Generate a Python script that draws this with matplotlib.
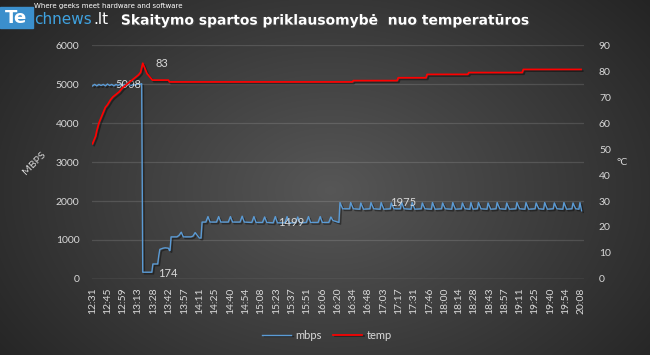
import numpy as np
import matplotlib.pyplot as plt
import matplotlib.patheffects as pe

# Tick labels on the time axis
time_labels = ["12:31", "12:45", "12:59", "13:13", "13:28", "13:42", "13:57", "14:11",
               "14:25", "14:40", "14:54", "15:08", "15:23", "15:37", "15:51", "16:06",
               "16:20", "16:34", "16:48", "17:03", "17:17", "17:31", "17:46", "18:00",
               "18:14", "18:28", "18:43", "18:57", "19:11", "19:25", "19:40", "19:54", "20:08"]

# mbps series (minutes since 12:31, value)
mbps_t = [0, 2, 4, 6, 8, 10, 12, 14, 16, 18, 20, 22, 24, 26, 28, 30, 32, 34, 36, 38, 40, 42, 44, 46,
          47, 55.5, 56.5, 61, 62, 63, 66, 68, 71, 72, 72.5, 73.5, 79, 81, 83, 85, 92, 94, 96, 98, 100,
          101.5, 102.5,
          106, 108, 110, 116, 118, 120, 127, 129, 131, 138, 140, 142, 149, 151, 153, 159, 161, 163,
          169, 171, 173, 180, 182, 184, 190, 192, 194, 200, 202, 204, 211, 213, 215, 221, 223, 225,
          230.5, 231.5, 234, 240.5, 241.5, 244, 250, 251, 253.5, 259.5, 260.5, 263, 269, 270, 272.5,
          278.5, 279.5, 282, 288, 289, 291.5, 298, 299, 301.5, 307.5, 308.5, 311, 317, 318, 320.5,
          326.5, 327.5, 330, 336, 337, 339.5, 345, 346, 348.5, 353, 354, 356, 360, 361, 363.5,
          369, 370, 372.5, 377.5, 378.5, 381, 386.5, 387.5, 390, 396, 397, 399.5, 404.5, 405.5, 408,
          414, 415, 417.5, 422, 423, 425.5, 431, 432, 434.5, 440, 441, 443.5, 448.5, 449.5, 452,
          455, 456, 457.5]
mbps_v = [4950, 4990, 4950, 4990, 4960, 4990, 4950, 5000, 4960, 4990, 4950, 4990, 4960, 5000,
          4960, 4990, 4960, 5000, 4960, 4990, 4970, 5000, 4990, 5008,
          174, 174, 385, 385, 600, 760, 790, 800, 790, 730, 730, 1080, 1080, 1120, 1200, 1080, 1080,
          1100, 1190, 1120, 1050, 1050, 1460,
          1460, 1600, 1460, 1460, 1600, 1460, 1460, 1600, 1460, 1460, 1610, 1460, 1450, 1600, 1450,
          1450, 1590, 1450, 1440, 1600, 1440, 1440, 1600, 1440, 1440, 1590, 1440, 1450, 1600, 1450,
          1450, 1600, 1450, 1450, 1590, 1499,
          1450, 1960, 1800, 1800, 1960, 1800, 1790, 1950, 1790, 1800, 1960, 1800, 1790, 1960, 1790,
          1800, 1950, 1800, 1800, 1975, 1800, 1790, 1960, 1790, 1800, 1950, 1800, 1790, 1960, 1790,
          1800, 1950, 1800, 1790, 1960, 1790, 1800, 1950, 1800, 1790, 1960, 1790, 1800, 1960, 1800,
          1790, 1950, 1790, 1800, 1960, 1800, 1790, 1950, 1790, 1800, 1960, 1800, 1790, 1960, 1790,
          1800, 1950, 1800, 1790, 1960, 1790, 1800, 1950, 1800, 1790, 1960, 1790, 1800, 1950, 1800,
          1790, 1960, 1750]

# temperature series (minutes since 12:31, degrees C)
temp_t = [0, 1, 3, 4, 6, 7, 9, 10, 12, 14, 17, 19, 22, 25, 28, 31, 34, 37, 40, 43, 45, 47, 49, 51,
          54, 56, 71, 72, 243, 244, 285, 286, 312, 313, 351, 352, 402, 403, 457]
temp_v = [52, 53, 55, 57, 60, 61, 63, 64, 66, 67, 69, 70, 71, 72, 73.5, 74.5, 75.5, 76.5, 77.5,
          78.5, 79.5, 83, 81, 79, 77.5, 76.5, 76.5, 75.8, 75.8, 76.3, 76.3, 77.4, 77.4, 78.7, 78.7,
          79.4, 79.4, 80.6, 80.6]

txt = '#d9d9d9'
blue = '#5b9bd5'
plt.rcParams['font.family'] = ['Lato', 'DejaVu Sans']

fig = plt.figure(figsize=(6.5, 3.55), dpi=100)

# dark radial background
bg = fig.add_axes([0, 0, 1, 1], zorder=-10)
yy, xx = np.mgrid[0:355, 0:650]
r = np.sqrt(((xx - 330) / 420.0) ** 2 + ((yy - 190) / 300.0) ** 2)
shade = np.clip(0.34 - 0.2 * r, 0.14, 0.34)
bg.imshow(np.dstack([shade] * 3), aspect='auto', extent=[0, 1, 0, 1])
bg.axis('off')

ax = fig.add_axes([0.1415, 0.2141, 0.7565, 0.6591])
ax.patch.set_alpha(0)
ax2 = ax.twinx()

shadow = [pe.SimpleLineShadow(offset=(1.2, -1.2), shadow_color='black', alpha=0.4), pe.Normal()]
l1, = ax.plot(mbps_t, mbps_v, color=blue, lw=1.0, path_effects=shadow, label='mbps')
l2, = ax2.plot(temp_t, temp_v, color='#ff0000', lw=1.25, path_effects=shadow, label='temp')

ax.set_xlim(-0.5, 459.5)
ax.set_ylim(0, 6000)
ax2.set_ylim(0, 90)
ax.set_yticks(range(0, 6001, 1000))
ax2.set_yticks(range(0, 91, 10))

tick_pos = [(int(s[:2]) - 12) * 60 + int(s[3:]) - 31 for s in time_labels]
ax.set_xticks(tick_pos)
ax.set_xticklabels(time_labels, rotation=90)

ax.yaxis.grid(True, color='#ffffff', alpha=0.13, lw=0.9)
ax.set_axisbelow(True)
for a in (ax, ax2):
    for s in a.spines.values():
        s.set_visible(False)
    a.tick_params(colors=txt, labelsize=7.5, length=0)
ax.tick_params(axis='y', pad=9)
ax2.tick_params(axis='y', pad=11)
ax.tick_params(axis='x', pad=6)
ax.axhline(0, color='#ffffff', alpha=0.2, lw=1)

# data labels
ax.text(33, 4975, '5008', color=txt, fontsize=8, ha='center', va='center')
ax.text(70, 150, '174', color=txt, fontsize=8, ha='center', va='center')
ax.text(186, 1440, '1499', color=txt, fontsize=8, ha='center', va='center')
ax.text(291, 1950, '1975', color=txt, fontsize=8, ha='center', va='center')
ax2.text(65, 83, '83', color=txt, fontsize=8, ha='center', va='center')

fig.text(0.052, 0.54, 'MBPS', color=txt, fontsize=7.5, rotation=45, ha='center', va='center')
fig.text(0.957, 0.543, '°C', color=txt, fontsize=7.5, ha='center', va='center')

fig.legend(handles=[l1, l2], loc='center', bbox_to_anchor=(0.503, 0.056), ncol=2,
           frameon=False, fontsize=8, labelcolor=txt, handlelength=2.6, columnspacing=1.0,
           handletextpad=0.4)

# title and logo
fig.text(0.5, 0.942, 'Skaitymo spartos priklausomybė  nuo temperatūros', color='white',
         fontsize=10, fontweight='bold', ha='center', va='center', family='DejaVu Sans',
         path_effects=[pe.withSimplePatchShadow(offset=(1, -1), alpha=0.5)])
fig.patches.append(plt.Rectangle((0, 1 - 28 / 355), 33 / 650, 21 / 355, transform=fig.transFigure,
                                 color='#3b8fcc', zorder=5))
fig.text(0.025, 1 - 18 / 355, 'Te', color='white', fontsize=13, fontweight='bold',
         ha='center', va='center', family='DejaVu Sans', zorder=6)
fig.text(34 / 650, 1 - 19 / 355, 'chnews', color='#3fa2e0', fontsize=11, ha='left',
         va='center', family='DejaVu Sans', zorder=6)
fig.text(93 / 650, 1 - 19 / 355, '.lt', color='white', fontsize=11, ha='left',
         va='center', family='DejaVu Sans', zorder=6)
fig.text(34 / 650, 1 - 6 / 355, 'Where geeks meet hardware and software', color='white',
         fontsize=5, ha='left', va='center', family='DejaVu Sans')

fig.savefig('out.png', dpi=100)
